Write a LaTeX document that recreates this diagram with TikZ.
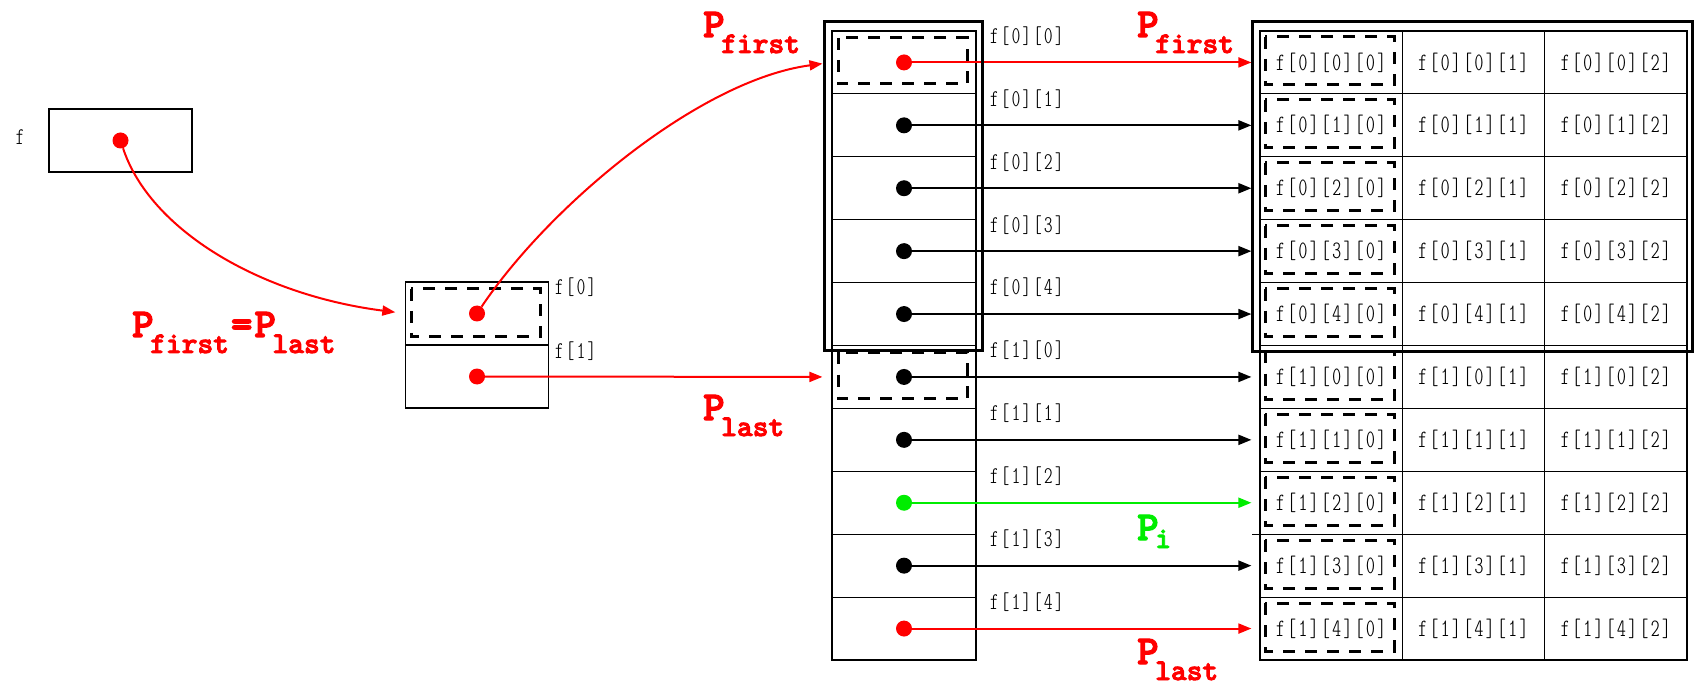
\documentclass[tikz,border=0pt]{standalone}
\usepackage{fontspec}
\newfontfamily\cellfont{lmmonoltcond10-regular.otf}[LetterSpace=10]
\newfontfamily\ptrfont{lmmonolt10-bold.otf}[FakeBold=3]
\usetikzlibrary{arrows.meta,positioning}
\definecolor{ptrgreen}{rgb}{0,0.93,0}
\newcommand{\ptrname}[2][16pt]{{\fontsize{41}{41}\selectfont P}\kern-3.5pt\raisebox{-#1}{\fontsize{30}{30}\selectfont #2}}

\begin{document}
\begin{tikzpicture}[x=1pt,y=-1pt,
	point/.style={circle, fill, inner sep=0pt, minimum size=16pt},
	cell/.style={draw, line width=1.2pt, minimum width=#1, minimum height=62.9pt, inner sep=0pt, font=\cellfont\fontsize{25}{25}\selectfont},
	cell/.default=142.3pt,
	lbl/.style={font=\cellfont\fontsize{24}{24}\selectfont, inner sep=0pt},
	dbox/.style={draw, line width=3pt, dash pattern=on 12pt off 10pt},
	frame/.style={draw, line width=3pt},
	ptr/.style={line width=2pt, -{Triangle[length=13pt,width=10pt]}},
	ptrlbl/.style={font=\ptrfont, anchor=base west, inner sep=0pt}]
		\useasboundingbox (0,0) rectangle (1694,684);

		\node[cell=143pt] (fvar) at (120.5,140.5) {};
		\node[lbl] (fname) at (20,137) {f};
		\node[point, red] (fdot) at (fvar) {};

		\node[cell] (row0) at (477,313.5) {};
		\node[cell] (row1) at (477,376.5) {};
		\draw[dbox] (411,289) rectangle (540,337);
		\node[lbl, anchor=west] (row0name) at (555,287) {f[0]};
		\node[lbl, anchor=west] (row1name) at (555,351) {f[1]};
		\node[point, red] (q0) at (row0) {};
		\node[point, red] (q1) at (row1) {};

		\foreach \i/\c in {0/red,1/black,2/black,3/black,4/black,5/black,6/black,7/ptrgreen,8/black,9/red} {
			\pgfmathtruncatemacro{\a}{\i/5}
			\pgfmathtruncatemacro{\b}{\i-5*\a}
			\node[cell=144pt] (col\i) at (904,{31+62.9*(\i+0.5)}) {};
			\node[lbl, anchor=west] (colname\i) at (990,{36+62.9*\i}) {f[\a][\b]};
			\foreach \k in {0,1,2}
				\node[cell] (tab\i\k) at ({1260+142.3*(\k+0.5)},{31+62.9*(\i+0.5)}) {f[\a][\b][\k]};
			\draw[dbox] (1265,{37+62.9*\i}) rectangle (1394,{85+62.9*\i});
			\node[point, \c] (p\i) at (col\i) {};
			\draw[ptr, \c, shorten >=8pt] (p\i) -- (tab\i0.west);
		}
		\draw[dbox] (838,38) rectangle (967,84);
		\draw[dbox] (838,352.5) rectangle (967,398.5);
		\draw[line width=1.2pt] (1252,534.2) -- (1678,534.2);

		\draw[frame] (824,22) rectangle (982,351);
		\draw[frame] (1252,22) rectangle (1692,352);

		\draw[ptr, red, shorten >=10pt] (fdot) .. controls (150,230) and (260,295) .. (row0.west);
		\draw[ptr, red, shorten >=9pt] (q0) .. controls (550,205) and (700,80) .. (col0.west);
		\draw[ptr, red, shorten >=9pt] (q1) -- (col5.west);

		\node[ptrlbl, red] (pboth) at (132,337) {\ptrname{first}\kern2pt{\fontsize{41}{41}\selectfont=}\kern2pt\ptrname{last}};
		\node[ptrlbl, red] (pfirst0) at (703,37) {\ptrname{first}};
		\node[ptrlbl, red] (pfirst1) at (1137,37) {\ptrname{first}};
		\node[ptrlbl, red] (plast0) at (703,420) {\ptrname{last}};
		\node[ptrlbl, ptrgreen] (pmid) at (1137,540) {\ptrname[8pt]{i}};
		\node[ptrlbl, red] (plast1) at (1137,664) {\ptrname{last}};
	\end{tikzpicture}
\end{document}
